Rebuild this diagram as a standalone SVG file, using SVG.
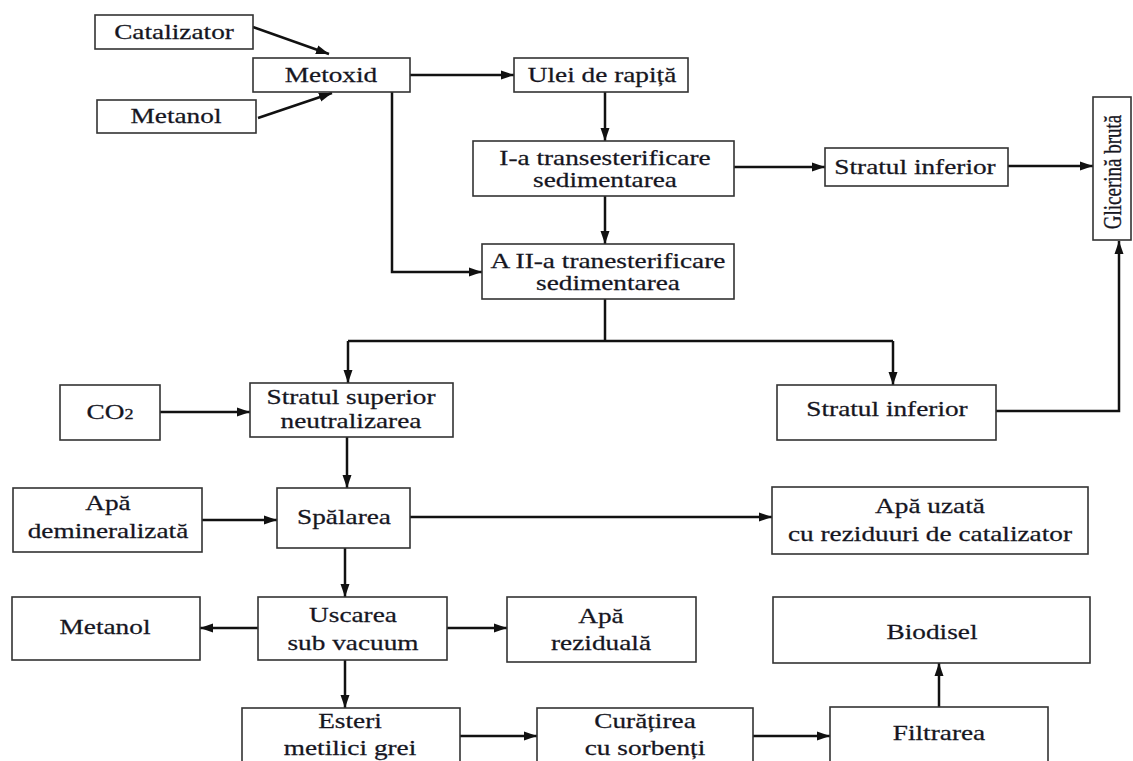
<svg xmlns="http://www.w3.org/2000/svg" width="1133" height="761" viewBox="0 0 1133 761">
<style>
.b{fill:#fff;stroke:#333;stroke-width:1.6}
.c{fill:none;stroke:#111;stroke-width:2.5}
.t{font-family:'Liberation Serif','Times New Roman','DejaVu Serif',serif;font-size:21px;fill:#16161f;stroke:#16161f;stroke-width:0.25;text-anchor:middle}
</style>
<defs>
<marker id="a" markerUnits="userSpaceOnUse" markerWidth="14" markerHeight="10" refX="13" refY="5" orient="auto"><path d="M0,0.5 L13,5 L0,9.5 z" fill="#111"/></marker>
</defs>
<rect width="1133" height="761" fill="#fff"/>
<g id="connectors">
<line class="c" x1="253" y1="27" x2="329" y2="54" marker-end="url(#a)"/>
<line class="c" x1="258" y1="118" x2="332" y2="93" marker-end="url(#a)"/>
<line class="c" x1="410" y1="75" x2="514" y2="75" marker-end="url(#a)"/>
<line class="c" x1="605" y1="92" x2="605" y2="141" marker-end="url(#a)"/>
<line class="c" x1="605" y1="196" x2="605" y2="244" marker-end="url(#a)"/>
<polyline class="c" points="392,92 392,272 482,272" marker-end="url(#a)"/>
<line class="c" x1="734" y1="167" x2="825" y2="167" marker-end="url(#a)"/>
<line class="c" x1="1008" y1="166" x2="1093" y2="166" marker-end="url(#a)"/>
<line class="c" x1="605" y1="299" x2="605" y2="341"/>
<line class="c" x1="348" y1="341" x2="893" y2="341"/>
<line class="c" x1="348" y1="341" x2="348" y2="383" marker-end="url(#a)"/>
<line class="c" x1="893" y1="341" x2="893" y2="385" marker-end="url(#a)"/>
<line class="c" x1="160" y1="412" x2="250" y2="412" marker-end="url(#a)"/>
<polyline class="c" points="996,411 1119,411 1119,241" marker-end="url(#a)"/>
<line class="c" x1="347" y1="437" x2="347" y2="488" marker-end="url(#a)"/>
<line class="c" x1="202" y1="520" x2="277" y2="520" marker-end="url(#a)"/>
<line class="c" x1="410" y1="517" x2="772" y2="517" marker-end="url(#a)"/>
<line class="c" x1="345" y1="548" x2="345" y2="597" marker-end="url(#a)"/>
<line class="c" x1="258" y1="628" x2="200" y2="628" marker-end="url(#a)"/>
<line class="c" x1="447" y1="628" x2="507" y2="628" marker-end="url(#a)"/>
<line class="c" x1="345" y1="660" x2="345" y2="708" marker-end="url(#a)"/>
<line class="c" x1="460" y1="736" x2="537" y2="736" marker-end="url(#a)"/>
<line class="c" x1="753" y1="736" x2="830" y2="736" marker-end="url(#a)"/>
<line class="c" x1="939" y1="707" x2="939" y2="663" marker-end="url(#a)"/>
</g>
<g id="n1"><rect class="b" x="95" y="15" width="158" height="34"/><text class="t" font-family="Liberation Serif, serif" transform="translate(174,39) scale(1.3,1)">Catalizator</text></g>
<g id="n2"><rect class="b" x="253" y="58" width="157" height="34"/><text class="t" font-family="Liberation Serif, serif" transform="translate(331,82) scale(1.3,1)">Metoxid</text></g>
<g id="n3"><rect class="b" x="97" y="100" width="159" height="33"/><text class="t" font-family="Liberation Serif, serif" transform="translate(176,123) scale(1.3,1)">Metanol</text></g>
<g id="n4"><rect class="b" x="514" y="58" width="174" height="34"/><text class="t" font-family="Liberation Serif, serif" transform="translate(602,82) scale(1.3,1)">Ulei de rapiță</text></g>
<g id="n5"><rect class="b" x="473" y="141" width="261" height="55"/><text class="t" font-family="Liberation Serif, serif" transform="translate(605,165) scale(1.3,1)"><tspan x="0" y="0">I-a transesterificare</tspan><tspan x="0" y="22">sedimentarea</tspan></text></g>
<g id="n6"><rect class="b" x="825" y="148" width="183" height="38"/><text class="t" font-family="Liberation Serif, serif" transform="translate(915,174) scale(1.3,1)">Stratul inferior</text></g>
<g id="n7"><rect class="b" x="1093" y="97" width="38" height="143"/><text class="t" font-family="Liberation Serif, serif" style="font-size:19px" transform="translate(1121,172) rotate(-90) scale(1,1.3)">Glicerină brută</text></g>
<g id="n8"><rect class="b" x="482" y="244" width="252" height="55"/><text class="t" font-family="Liberation Serif, serif" transform="translate(608,268) scale(1.3,1)"><tspan x="0" y="0">A II-a tranesterificare</tspan><tspan x="0" y="22">sedimentarea</tspan></text></g>
<g id="n9"><rect class="b" x="60" y="385" width="100" height="55"/><text class="t" font-family="Liberation Serif, serif" transform="translate(110,419) scale(1.3,1)">CO<tspan style="font-size:14px">2</tspan></text></g>
<g id="n10"><rect class="b" x="250" y="383" width="203" height="54"/><text class="t" font-family="Liberation Serif, serif" transform="translate(351,404) scale(1.3,1)"><tspan x="0" y="0">Stratul superior</tspan><tspan x="0" y="24">neutralizarea</tspan></text></g>
<g id="n11"><rect class="b" x="777" y="385" width="219" height="55"/><text class="t" font-family="Liberation Serif, serif" transform="translate(887,416) scale(1.3,1)">Stratul inferior</text></g>
<g id="n12"><rect class="b" x="13" y="488" width="189" height="64"/><text class="t" font-family="Liberation Serif, serif" transform="translate(108,510) scale(1.3,1)"><tspan x="0" y="0">Apă</tspan><tspan x="0" y="28">demineralizată</tspan></text></g>
<g id="n13"><rect class="b" x="277" y="488" width="133" height="60"/><text class="t" font-family="Liberation Serif, serif" transform="translate(344,524) scale(1.3,1)">Spălarea</text></g>
<g id="n14"><rect class="b" x="772" y="487" width="316" height="67"/><text class="t" font-family="Liberation Serif, serif" transform="translate(930,513) scale(1.3,1)"><tspan x="0" y="0">Apă uzată</tspan><tspan x="0" y="28">cu reziduuri de catalizator</tspan></text></g>
<g id="n15"><rect class="b" x="12" y="597" width="188" height="63"/><text class="t" font-family="Liberation Serif, serif" transform="translate(105,634) scale(1.3,1)">Metanol</text></g>
<g id="n16"><rect class="b" x="258" y="597" width="189" height="63"/><text class="t" font-family="Liberation Serif, serif" transform="translate(353,622) scale(1.3,1)"><tspan x="0" y="0">Uscarea</tspan><tspan x="0" y="28">sub vacuum</tspan></text></g>
<g id="n17"><rect class="b" x="507" y="597" width="189" height="65"/><text class="t" font-family="Liberation Serif, serif" transform="translate(601,623) scale(1.3,1)"><tspan x="0" y="0">Apă</tspan><tspan x="0" y="27">reziduală</tspan></text></g>
<g id="n18"><rect class="b" x="773" y="597" width="317" height="66"/><text class="t" font-family="Liberation Serif, serif" transform="translate(932,639) scale(1.3,1)">Biodisel</text></g>
<g id="n19"><rect class="b" x="242" y="708" width="218" height="70"/><text class="t" font-family="Liberation Serif, serif" transform="translate(350,728) scale(1.3,1)"><tspan x="0" y="0">Esteri</tspan><tspan x="0" y="27">metilici grei</tspan></text></g>
<g id="n20"><rect class="b" x="537" y="708" width="216" height="70"/><text class="t" font-family="Liberation Serif, serif" transform="translate(645,728) scale(1.3,1)"><tspan x="0" y="0">Curățirea</tspan><tspan x="0" y="27">cu sorbenți</tspan></text></g>
<g id="n21"><rect class="b" x="830" y="707" width="218" height="70"/><text class="t" font-family="Liberation Serif, serif" transform="translate(939,740) scale(1.3,1)">Filtrarea</text></g>
</svg>
